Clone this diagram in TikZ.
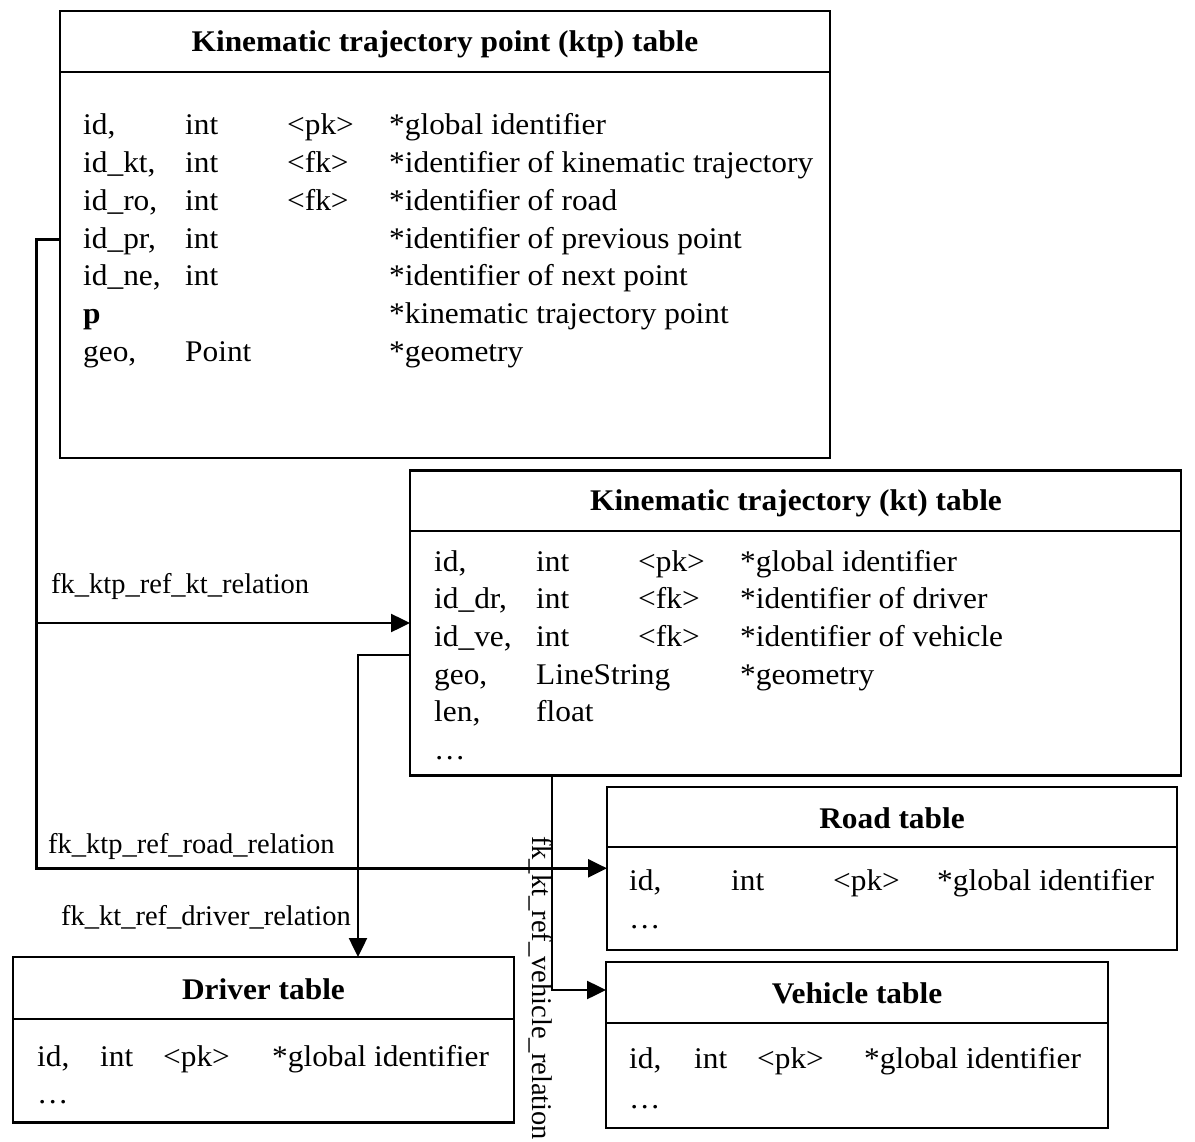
\documentclass[tikz,border=0pt]{standalone}
\usepackage{fontspec}
\setmainfont[FakeStretch=1.045]{Liberation Serif}
\newfontfamily\lblfont{Liberation Serif}
\usetikzlibrary{arrows.meta}
\tikzset{
  tbox/.style={draw, line width=2.7pt, inner sep=0pt, outer sep=0pt, anchor=north west},
  hline/.style={line width=2.2pt},
  cell/.style={anchor=base west, inner sep=0pt, font=\fontsize{30}{36}\selectfont},
  ttl/.style={anchor=base, inner sep=0pt, font=\fontsize{30}{36}\selectfont\bfseries},
  lbl/.style={anchor=base west, inner sep=0pt, font=\lblfont\fontsize{28.5}{34}\selectfont},
  conn/.style={line width=2.5pt, -{Triangle[length=19pt,width=18pt]}},
}
% row of four cells: #1 name prefix, #2 baseline y, #3-#6 texts
\newcommand\trow[6]{%
  \node[cell] (#1a) at (\colA,#2) {#3};
  \node[cell] (#1b) at (\colB,#2) {#4};
  \node[cell] (#1c) at (\colC,#2) {#5};
  \node[cell] (#1d) at (\colD,#2) {#6};
}
\begin{document}
\begin{tikzpicture}[x=1pt,y=-1pt]
\useasboundingbox (0,0) rectangle (1195,1142);
\fill[white] (0,0) rectangle (1195,1142);

% ---------- ktp table ----------
\node[tbox, minimum width=770pt, minimum height=447pt] (ktp) at (60,11) {};
\draw[hline] ([yshift=-60.7pt]ktp.north west) -- ([yshift=-60.7pt]ktp.north east);
\node[ttl] (ktpT) at (445,51.7) {Kinematic trajectory point (ktp) table};
\def\colA{83}\def\colB{185}\def\colC{287}\def\colD{389}
\trow{ktpA}{135}{id,}{int}{<pk>}{*global identifier}
\trow{ktpB}{173}{id\_kt,}{int}{<fk>}{*identifier of kinematic trajectory}
\trow{ktpC}{211}{id\_ro,}{int}{<fk>}{*identifier of road}
\trow{ktpD}{248.5}{id\_pr,}{int}{}{*identifier of previous point}
\trow{ktpE}{286}{id\_ne,}{int}{}{*identifier of next point}
\trow{ktpF}{323.7}{\textbf{p}}{}{}{*kinematic trajectory point}
\trow{ktpG}{361.5}{geo,}{Point}{}{*geometry}

% ---------- kt table ----------
\node[tbox, minimum width=771pt, minimum height=305pt] (kt) at (410,470.5) {};
\draw[hline] ([yshift=-60.2pt]kt.north west) -- ([yshift=-60.2pt]kt.north east);
\node[ttl] (ktT) at (796,510) {Kinematic trajectory (kt) table};
\def\colA{434}\def\colB{536}\def\colC{638}\def\colD{740}
\trow{ktA}{571}{id,}{int}{<pk>}{*global identifier}
\trow{ktB}{608.5}{id\_dr,}{int}{<fk>}{*identifier of driver}
\trow{ktC}{646.5}{id\_ve,}{int}{<fk>}{*identifier of vehicle}
\trow{ktD}{684}{geo,}{LineString}{}{*geometry}
\trow{ktE}{721.7}{len,}{float}{}{}
\node[cell] (ktF) at (434,759.5) {…};

% ---------- Road table ----------
\node[tbox, minimum width=570pt, minimum height=163pt] (road) at (607,787) {};
\draw[hline] ([yshift=-60.3pt]road.north west) -- ([yshift=-60.3pt]road.north east);
\node[ttl] (roadT) at (892,828.3) {Road table};
\def\colA{629}\def\colB{731}\def\colC{833}\def\colD{937}
\trow{roadA}{890}{id,}{int}{<pk>}{*global identifier}
\node[cell] (roadB) at (629,928) {…};

% ---------- Vehicle table ----------
\node[tbox, minimum width=502pt, minimum height=166pt] (vehicle) at (606,962) {};
\draw[hline] ([yshift=-60.7pt]vehicle.north west) -- ([yshift=-60.7pt]vehicle.north east);
\node[ttl] (vehT) at (857,1003) {Vehicle table};
\def\colA{629}\def\colB{694}\def\colC{757}\def\colD{864}
\trow{vehA}{1068}{id,}{int}{<pk>}{*global identifier}
\node[cell] (vehB) at (629,1108) {…};

% ---------- Driver table ----------
\node[tbox, minimum width=501pt, minimum height=165.7pt] (driver) at (13,957) {};
\draw[hline] ([yshift=-62pt]driver.north west) -- ([yshift=-62pt]driver.north east);
\node[ttl] (drvT) at (263.5,999.3) {Driver table};
\def\colA{37}\def\colB{100}\def\colC{163}\def\colD{272}
\trow{drvA}{1066.7}{id,}{int}{<pk>}{*global identifier}
\node[cell] (drvB) at (37,1103) {…};

% ---------- connectors ----------
\coordinate (k1) at (36.4,239.3);
\coordinate (k2) at (0,623);
\coordinate (k3) at (0,868.3);
\coordinate (k4) at (358,655);
\coordinate (k5) at (552,990);
\draw[conn] (ktp.west |- k1) -- (k1) |- (kt.west |- k2);
\draw[conn] (k1) |- (road.west |- k3);
\draw[conn] (kt.west |- k4) -- (k4) -- (k4 |- driver.north);
\draw[conn] (kt.south -| k5) -- (k5) -- (vehicle.west |- k5);

% ---------- labels ----------
\node[lbl] (l1) at (51,593.3) {fk\_ktp\_ref\_kt\_relation};
\node[lbl] (l2) at (48,853.3) {fk\_ktp\_ref\_road\_relation};
\node[lbl, anchor=base east] (l3) at (351,925) {fk\_kt\_ref\_driver\_relation};
\node[lbl, rotate=-90] (l4) at (532,836) {fk\_kt\_ref\_vehicle\_relation};
\end{tikzpicture}
\end{document}
